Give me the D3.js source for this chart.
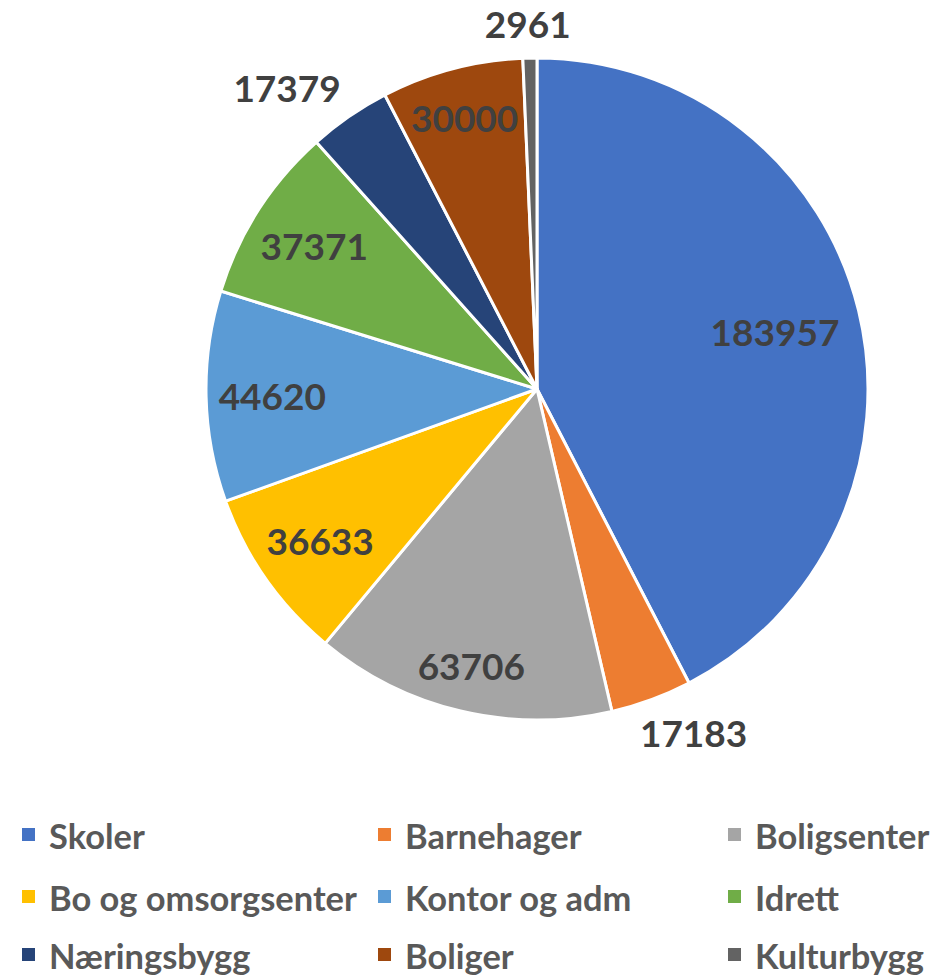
<!DOCTYPE html>
<html>
<head>
<meta charset="utf-8">
<script src="https://cdn.jsdelivr.net/npm/d3@7"></script>
<style>
  body { margin: 0; background: #fff; }
  text { font-family: Lato, "Open Sans", sans-serif; font-weight: bold; }
</style>
</head>
<body>
<div id="chart"></div>
<script>
// the data
const categories = ["Skoler", "Barnehager", "Boligsenter", "Bo og omsorgsenter", "Kontor og adm",
                    "Idrett", "Næringsbygg", "Boliger", "Kulturbygg"];
const values = [183957, 17183, 63706, 36633, 44620, 37371, 17379, 30000, 2961];
const colors = ["#4472C4", "#ED7D31", "#A5A5A5", "#FFC000", "#5B9BD5",
                "#70AD47", "#264478", "#9E480E", "#636363"];
// labels that sit outside the pie (too small to fit inside)
const outsideLabels = ["Barnehager", "Næringsbygg", "Kulturbygg"];

const width = 937, height = 975;
const cx = 537, cy = 389, radius = 331;

// inside labels sit at 0.8 of the radius, a few are nudged like in Excel's best fit
const labelRadius = { "Skoler": 0.74, "Boligsenter": 0.86, "Boliger": 0.85 };

const svg = d3.select("#chart")
  .append("svg")
    .attr("width", width)
    .attr("height", height);

const rows = categories.map((c, i) => ({ name: c, value: values[i], color: colors[i] }));

const pie = d3.pie().sort(null).value(d => d.value);
const arc = d3.arc().innerRadius(0).outerRadius(radius);
const arcs = pie(rows);

const pieGroup = svg.append("g").attr("transform", `translate(${cx},${cy})`);

pieGroup.selectAll("path")
  .data(arcs)
  .join("path")
    .attr("d", arc)
    .attr("fill", d => d.data.color)
    .attr("stroke", "#fff")
    .attr("stroke-width", 3)
    .attr("stroke-linejoin", "round");

// value labels
const labels = pieGroup.selectAll(".val")
  .data(arcs)
  .join("text")
    .attr("class", "val")
    .attr("text-anchor", "middle")
    .attr("dominant-baseline", "central")
    .attr("font-size", 37)
    .attr("fill", "#404040")
    .text(d => d.data.value);

labels.each(function(d) {
  const a = (d.startAngle + d.endAngle) / 2;
  const s = Math.sin(a), c = Math.cos(a);
  let x, y;
  if (outsideLabels.includes(d.data.name)) {
    // box sits just outside the rim, pushed away in the slice's direction
    const w = this.getComputedTextLength();
    const r = radius + 15;
    x = r * s + Math.sign(s) * Math.min(1, Math.abs(s) * 2) * w / 2;
    y = -r * c - 20 * c;
  } else {
    const r = radius * (labelRadius[d.data.name] || 0.8);
    x = r * s;
    y = -r * c;
  }
  d3.select(this).attr("x", x).attr("y", y);
});

// legend, 3 columns
const legendX = [22, 378, 728];
const legendY = [835, 897, 955];

const legend = svg.selectAll(".legend")
  .data(rows)
  .join("g")
    .attr("class", "legend")
    .attr("transform", (d, i) => `translate(${legendX[i % 3]},${legendY[Math.floor(i / 3)]})`);

legend.append("rect")
  .attr("x", 0)
  .attr("y", -7)
  .attr("width", 13)
  .attr("height", 13)
  .attr("fill", d => d.color);

const legendText = legend.append("text")
  .attr("x", 27)
  .attr("dominant-baseline", "central")
  .attr("font-size", 30)
  .attr("fill", "#595959")
  .text(d => d.name);

// scale the legend font so the longest entry matches the reference width
const longest = legendText.filter(d => d.name === "Bo og omsorgsenter").node();
const w = longest.getComputedTextLength();
legendText.attr("font-size", 30 * 308 / w);
</script>
</body>
</html>
